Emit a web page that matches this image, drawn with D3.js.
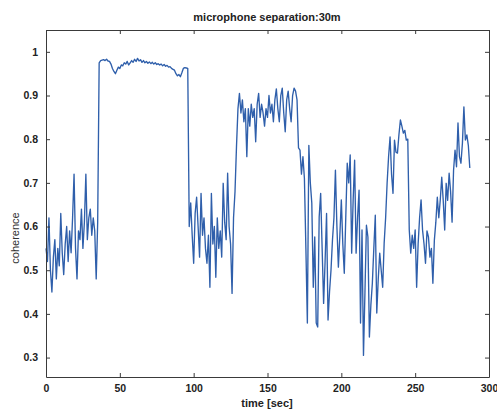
<!DOCTYPE html>
<html>
<head>
<meta charset="utf-8">
<script src="https://cdn.jsdelivr.net/npm/d3@7"></script>
<style>
  html, body { margin: 0; padding: 0; background: #fff; }
  svg { display: block; }
</style>
</head>
<body>
<svg id="chart" width="497" height="412"></svg>
<script>
const title = "microphone separation:30m";
const xLabel = "time [sec]";
const yLabel = "coherence";
const xTicks = [0, 50, 100, 150, 200, 250, 300];
const yTicks = [0.3, 0.4, 0.5, 0.6, 0.7, 0.8, 0.9, 1];
const yTickLabels = ["0.3", "0.4", "0.5", "0.6", "0.7", "0.8", "0.9", "1"];
const tStart = 0;   // seconds
const tStep = 1;    // seconds between samples
const coherence = [
  0.55,0.52,0.62,0.50,0.45,0.53,0.57,0.48,0.55,0.51,
  0.63,0.54,0.49,0.56,0.60,0.52,0.59,0.54,0.62,0.72,
  0.55,0.48,0.59,0.57,0.64,0.55,0.61,0.72,0.57,0.62,
  0.64,0.58,0.62,0.59,0.48,0.61,0.975,0.980,0.981,0.982,
  0.980,0.983,0.979,0.978,0.972,0.962,0.955,0.950,0.958,0.965,
  0.962,0.970,0.968,0.975,0.972,0.978,0.970,0.975,0.980,0.976,
  0.983,0.978,0.985,0.979,0.982,0.976,0.980,0.975,0.978,0.974,
  0.977,0.973,0.976,0.972,0.975,0.971,0.973,0.970,0.972,0.968,
  0.971,0.967,0.969,0.965,0.966,0.962,0.960,0.958,0.950,0.945,
  0.948,0.943,0.952,0.962,0.964,0.963,0.962,0.60,0.654,0.58,
  0.516,0.63,0.667,0.60,0.53,0.676,0.58,0.62,0.55,0.516,
  0.58,0.461,0.676,0.56,0.60,0.484,0.62,0.55,0.59,0.53,
  0.699,0.61,0.57,0.722,0.60,0.56,0.447,0.62,0.68,0.783,
  0.87,0.905,0.86,0.89,0.84,0.87,0.76,0.87,0.83,0.88,
  0.85,0.87,0.794,0.88,0.905,0.85,0.88,0.86,0.83,0.87,
  0.85,0.90,0.86,0.88,0.84,0.89,0.915,0.87,0.84,0.90,
  0.917,0.86,0.817,0.89,0.91,0.87,0.84,0.90,0.917,0.91,
  0.89,0.78,0.775,0.72,0.76,0.71,0.55,0.379,0.786,0.70,
  0.654,0.461,0.576,0.379,0.370,0.622,0.676,0.55,0.424,0.52,
  0.630,0.386,0.45,0.50,0.569,0.62,0.729,0.60,0.507,0.58,
  0.661,0.56,0.493,0.62,0.745,0.70,0.764,0.539,0.66,0.752,
  0.539,0.62,0.683,0.379,0.592,0.305,0.45,0.603,0.576,0.347,
  0.42,0.470,0.55,0.626,0.402,0.48,0.539,0.50,0.461,0.562,
  0.62,0.699,0.76,0.805,0.72,0.676,0.798,0.77,0.768,0.81,
  0.844,0.83,0.814,0.82,0.798,0.80,0.592,0.539,0.58,0.55,
  0.592,0.461,0.56,0.62,0.661,0.592,0.56,0.516,0.59,0.576,
  0.530,0.55,0.470,0.569,0.61,0.667,0.62,0.661,0.713,0.66,
  0.592,0.699,0.66,0.722,0.68,0.610,0.729,0.775,0.737,0.837,
  0.76,0.745,0.791,0.874,0.798,0.81,0.786,0.734
];

const svg = d3.select("#chart");
const L = 46, R = 489, T = 30, B = 377;
const x = d3.scaleLinear().domain([0, 300]).range([L, R]);
const y = d3.scaleLinear().domain([0.2555, 1.05]).range([B, T]);
const axisColor = "#3a3a3a";
const font = "'Liberation Sans', Arial, Helvetica, sans-serif";

// line
const line = d3.line()
  .x((d, i) => x(tStart + i * tStep))
  .y(d => y(d));
svg.append("path")
  .datum(coherence)
  .attr("fill", "none")
  .attr("stroke", "#2f5fab")
  .attr("stroke-width", 1.35)
  .attr("stroke-linejoin", "round")
  .attr("d", line);

// axes (MATLAB style: inward ticks on all four sides)
const fmtY = (d) => yTickLabels[yTicks.indexOf(d)];
function styleAxis(g) {
  g.select(".domain").attr("stroke", axisColor).attr("stroke-width", 1);
  g.selectAll(".tick line").attr("stroke", axisColor);
  g.selectAll(".tick text").attr("fill", "#222").attr("font-family", font)
    .attr("font-size", 10.5).attr("font-weight", "bold");
}
const gB = svg.append("g").attr("transform", `translate(0,${B})`)
  .call(d3.axisBottom(x).tickValues(xTicks).tickSize(-4).tickSizeOuter(0).tickPadding(8).tickFormat(d3.format("d")));
styleAxis(gB);
const gT = svg.append("g").attr("transform", `translate(0,${T})`)
  .call(d3.axisTop(x).tickValues(xTicks).tickSize(-4).tickSizeOuter(0).tickFormat(""));
styleAxis(gT);
const gL = svg.append("g").attr("transform", `translate(${L},0)`)
  .call(d3.axisLeft(y).tickValues(yTicks).tickSize(-4).tickSizeOuter(0).tickPadding(8).tickFormat(fmtY));
styleAxis(gL);
const gR = svg.append("g").attr("transform", `translate(${R},0)`)
  .call(d3.axisRight(y).tickValues(yTicks).tickSize(-4).tickSizeOuter(0).tickFormat(""));
styleAxis(gR);

// title and labels
svg.append("text").attr("x", 267).attr("y", 21).attr("text-anchor", "middle")
  .attr("font-family", font).attr("font-size", 11).attr("font-weight", "bold")
  .attr("fill", "#222").text(title);
svg.append("text").attr("x", 267).attr("y", 407).attr("text-anchor", "middle")
  .attr("font-family", font).attr("font-size", 11).attr("font-weight", "bold")
  .attr("fill", "#222").text(xLabel);
svg.append("text").attr("transform", "translate(19,238) rotate(-90)").attr("text-anchor", "middle")
  .attr("font-family", font).attr("font-size", 11)
  .attr("fill", "#333").text(yLabel);
</script>
</body>
</html>
